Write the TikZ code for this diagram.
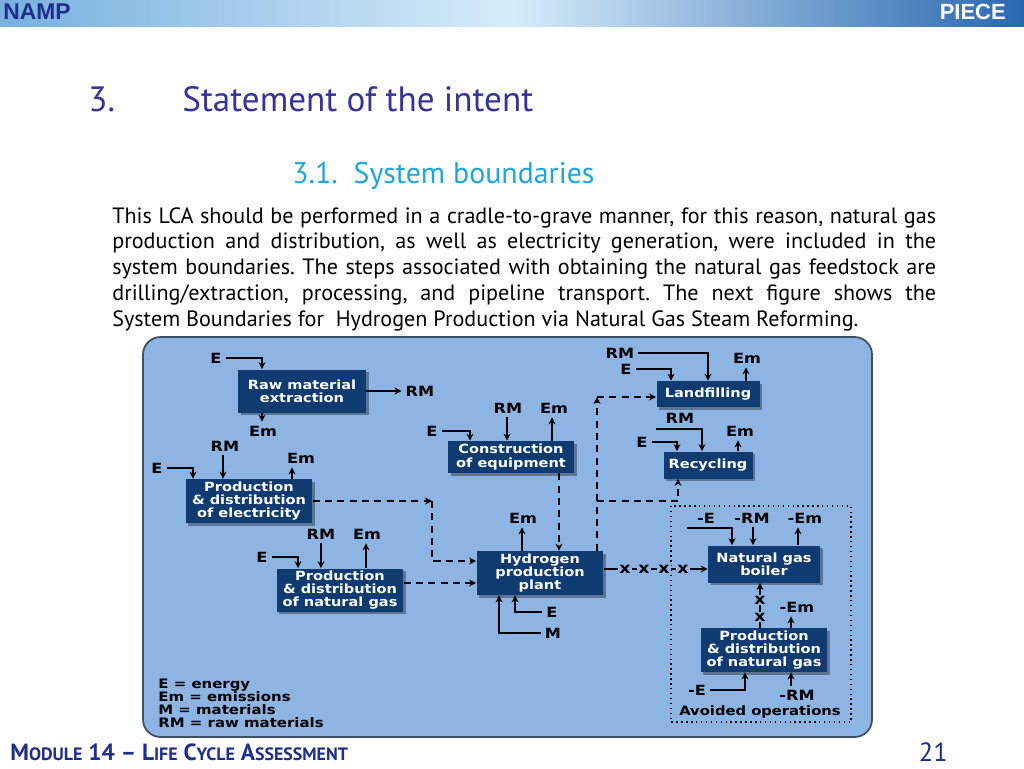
\documentclass[tikz,border=0pt]{standalone}
\usepackage{fontspec}
\setmainfont{PT Sans}
\newfontfamily\diagfont{DejaVu Sans}[FakeStretch=1.15]
\newfontfamily\barfont{Liberation Sans}
\usepackage{tikz}
\usetikzlibrary{arrows.meta, positioning, calc, shadows}
\definecolor{slidenavy}{RGB}{51, 51, 153}
\definecolor{slidecyan}{RGB}{30, 166, 222}
\definecolor{boxnavy}{RGB}{15, 59, 112}
\definecolor{panelblue}{RGB}{141, 180, 226}
\definecolor{panelrim}{RGB}{60, 80, 100}
\definecolor{barleft}{RGB}{120, 176, 222}
\definecolor{barmid}{RGB}{214, 236, 249}
\definecolor{barright}{RGB}{40, 104, 176}
\definecolor{footnavy}{RGB}{31, 45, 140}
\newcommand{\fakesc}[1]{{\fontsize{10.2}{10.2}\selectfont #1}}
\frenchspacing

\begin{document}
\begin{tikzpicture}[x=0.02cm, y=-0.02cm,
    every node/.style={inner sep=0pt},
    procbox/.style={fill=boxnavy, text=white, align=center, inner sep=1pt,
        font=\diagfont\bfseries\fontsize{7.2}{7.6}\selectfont,
        drop shadow={shadow xshift=1.5pt, shadow yshift=-1.5pt, fill=black, opacity=0.35}},
    flowlbl/.style={font=\diagfont\bfseries\fontsize{8}{8}\selectfont, text=black, inner sep=2.2pt},
    flow/.style={-{Stealth[length=4pt, width=4pt]}, line width=0.7pt},
    feed/.style={flow, dash pattern=on 4pt off 3pt}
]
\useasboundingbox (0,0) rectangle (1024,768);
\fill[white] (0,0) rectangle (1024,768);

% header bar
\shade[left color=barleft, right color=barright, middle color=barmid] (0,0) rectangle (1024,26);
\node[font=\barfont\bfseries\fontsize{13}{13}\selectfont, text=footnavy, anchor=west] (namp) at (3,12) {NAMP};
\node[font=\barfont\bfseries\fontsize{12.5}{12.5}\selectfont, text=white, anchor=east] (piece) at (1006,12) {PIECE};

% headings and text
\node[anchor=base west, font=\fontsize{20}{20}\selectfont, text=slidenavy] (secnum) at (88,111) {3.};
\node[anchor=base west, font=\fontsize{20}{20}\selectfont, text=slidenavy] (sectitle) at (182,111) {Statement of the intent};
\node[anchor=base west, font=\fontsize{17}{17}\selectfont, text=slidecyan] (subtitle) at (292,183) {3.1.\ \ System boundaries};
\node[anchor=north west, text width=16.48cm, align=justify, font=\fontsize{12.6}{14.7}\selectfont] (intro) at (112,207) {%
This LCA should be performed in a cradle-to-grave manner, for this reason, natural gas\linebreak
production and distribution, as well as electricity generation, were included in the\linebreak
system boundaries. The steps associated with obtaining the natural gas feedstock are\linebreak
drilling/extraction, processing, and pipeline transport. The next figure shows the\linebreak
System Boundaries for\ \ Hydrogen Production via Natural Gas Steam Reforming.};

% diagram panel
\draw[panelrim, line width=1pt, fill=panelblue, rounded corners=10pt] (143,337) rectangle (872,737);
\draw[line width=0.8pt, dotted] (671,506) rectangle (851,722);

% process boxes
\node[procbox, minimum width=2.56cm, minimum height=0.86cm] (rawext) at (302,391) {Raw material\\extraction};
\node[procbox, minimum width=2.54cm, minimum height=0.88cm] (elec) at (249,501) {Production\\\& distribution\\of electricity};
\node[procbox, minimum width=2.54cm, minimum height=0.86cm] (ngleft) at (340,590) {Production\\\& distribution\\of natural gas};
\node[procbox, minimum width=2.52cm, minimum height=0.64cm] (constr) at (511,457) {Construction\\of equipment};
\node[procbox, minimum width=2.54cm, minimum height=0.88cm] (hydro) at (540,573) {Hydrogen\\production\\plant};
\node[procbox, minimum width=2.06cm, minimum height=0.52cm] (landf) at (708,394) {Landfilling};
\node[procbox, minimum width=1.78cm, minimum height=0.54cm] (recyc) at (708,465) {Recycling};
\node[procbox, minimum width=2.24cm, minimum height=0.74cm] (boiler) at (764,564) {Natural gas\\boiler};
\node[procbox, minimum width=2.54cm, minimum height=0.88cm] (ngright) at (764,650) {Production\\\& distribution\\of natural gas};

% flow labels
\node[flowlbl] (rawE) at (216,358) {E};
\node[flowlbl] (rawRM) at (420,391) {RM};
\node[flowlbl] (rawEm) at (263,431) {Em};
\node[flowlbl] (elecRM) at (225,446) {RM};
\node[flowlbl] (elecE) at (157,468) {E};
\node[flowlbl] (elecEm) at (301,458) {Em};
\node[flowlbl] (ngE) at (262,557) {E};
\node[flowlbl] (ngRM) at (321,534) {RM};
\node[flowlbl] (ngEm) at (367,534) {Em};
\node[flowlbl] (conE) at (432,431) {E};
\node[flowlbl] (conRM) at (508,408) {RM};
\node[flowlbl] (conEm) at (554,408) {Em};
\node[flowlbl] (hyEm) at (523,518) {Em};
\node[flowlbl] (hyE) at (552,612) {E};
\node[flowlbl] (hyM) at (553,633) {M};
\node[flowlbl] (lfRM) at (620,353) {RM};
\node[flowlbl] (lfE) at (626,369) {E};
\node[flowlbl] (lfEm) at (747,358) {Em};
\node[flowlbl] (rcRM) at (680,418) {RM};
\node[flowlbl] (rcE) at (642,442) {E};
\node[flowlbl] (rcEm) at (740,431) {Em};
\node[flowlbl] (boE) at (706,518) {-E};
\node[flowlbl] (boRM) at (752,518) {-RM};
\node[flowlbl] (boEm) at (805,518) {-Em};
\node[flowlbl] (avEm) at (797,607) {-Em};
\node[flowlbl] (avE) at (697,690) {-E};
\node[flowlbl] (avRM) at (797,695) {-RM};
\node[flowlbl, font=\diagfont\bfseries\fontsize{7.3}{7.3}\selectfont] (avoided) at (760,712) {Avoided operations};
\node[flowlbl, anchor=north west, align=left, inner sep=0pt, font=\diagfont\bfseries\fontsize{7.4}{7.4}\selectfont] (legend) at (158,679) {E = energy\\Em = emissions\\M = materials\\RM = raw materials};

% inputs and outputs
\draw[flow] (rawE.east) -| (262,0 |- rawext.north);
\draw[flow] (rawext.east) -- (rawRM.west);
\draw[flow] (262,0 |- rawext.south) -- (262,0 |- rawEm.north);
\draw[flow] (elecE.east) -| (193,0 |- elec.north);
\draw[flow] (223,0 |- elecRM.south) -- (223,0 |- elec.north);
\draw[flow] (292,0 |- elec.north) -- (292,0 |- elecEm.south);
\draw[flow] (ngE.east) -| (298,0 |- ngleft.north);
\draw[flow] (ngRM.south) -- (ngRM.south |- ngleft.north);
\draw[flow] (366,0 |- ngleft.north) -- (366,0 |- ngEm.south);
\draw[flow] (conE.east) -| (470,0 |- constr.north);
\draw[flow] (507,0 |- conRM.south) -- (507,0 |- constr.north);
\draw[flow] (552,0 |- constr.north) -- (552,0 |- conEm.south);
\draw[flow] (522,0 |- hydro.north) -- (522,0 |- hyEm.south);
\draw[flow] (hyE.west) -| (515,0 |- hydro.south);
\draw[flow] (hyM.west) -| (499,0 |- hydro.south);
\draw[flow] (lfRM.east) -| (708,0 |- landf.north);
\draw[flow] (lfE.east) -| (671,0 |- landf.north);
\draw[flow] (746,0 |- landf.north) -- (746,0 |- lfEm.south);
\coordinate (rcIn) at (656,429);
\draw[flow] (rcIn) -| (702,0 |- recyc.north);
\draw[flow] (rcE.east) -| (677,0 |- recyc.north);
\draw[flow] (738,0 |- recyc.north) -- (738,0 |- rcEm.south);
\coordinate (boIn) at (687,528);
\draw[flow] (boIn) -| (732,0 |- boiler.north);
\draw[flow] (753,0 |- boRM.south) -- (753,0 |- boiler.north);
\draw[flow] (798,0 |- boiler.north) -- (798,0 |- boEm.south);
\draw[flow] (791,0 |- ngright.north) -- (791,0 |- avEm.south);
\draw[flow] (avE.east) -| (745,0 |- ngright.south);
\draw[flow] (791,0 |- avRM.north) -- (791,0 |- ngright.south);

% links between processes
\coordinate (elecBend) at (432,501);
\draw[feed] (elec.east |- elecBend) -- (elecBend);
\draw[feed] (elecBend) |- (hydro.west |- 0,561);
\draw[feed] (ngleft.east |- 0,583) -- (hydro.west |- 0,583);
\draw[feed] (559,0 |- constr.south) -- (559,0 |- hydro.north);
\coordinate (lfBend) at (597,397);
\coordinate (rcBend) at (597,501);
\draw[feed] (597,0 |- hydro.north) -- (lfBend);
\draw[feed] (lfBend) -- (landf.west |- lfBend);
\draw[feed] (rcBend) -| (678,0 |- recyc.south);

% avoided natural gas
\draw[flow] (hydro.east |- 0,569) -- (boiler.west |- 0,569);
\foreach \xm in {625,644,664,683}
  \node[flowlbl, fill=panelblue, inner sep=0.6pt, font=\diagfont\bfseries\fontsize{8.6}{8.6}\selectfont] at (\xm,569) {x};
\draw[flow] (760,0 |- ngright.north) -- (760,0 |- boiler.south);
\foreach \ym in {600,617}
  \node[flowlbl, fill=panelblue, inner sep=0.4pt, font=\diagfont\bfseries\fontsize{8.6}{8.6}\selectfont] at (760,\ym) {x};

% footer
\node[anchor=base west, font=\bfseries\fontsize{13.3}{13.3}\selectfont, text=footnavy] (module) at (10,760) {M\fakesc{ODULE} 14 -- L\fakesc{IFE} C\fakesc{YCLE} A\fakesc{SSESSMENT}};
\node[anchor=base east, font=\fontsize{15}{15}\selectfont, text=footnavy] (pageno) at (948,761) {21};
\end{tikzpicture}
\end{document}
